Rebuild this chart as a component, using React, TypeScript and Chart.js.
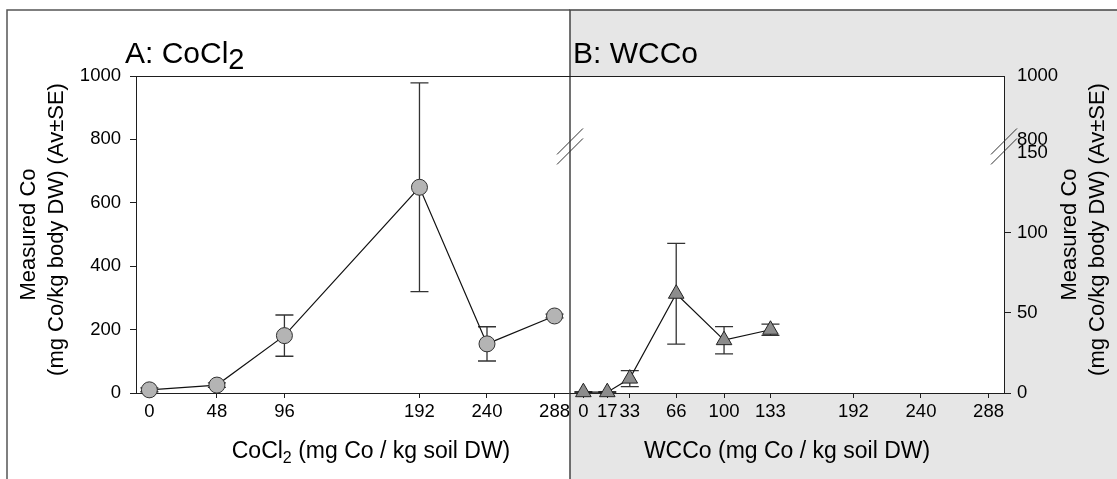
import React, { useEffect, useRef } from 'react';
import { Chart, registerables } from 'chart.js';

Chart.register(...registerables);

// Panel A: CoCl2 exposure
const DOSE_A = [0, 48, 96, 192, 240, 288];
const CO_A = [10, 25, 181, 649, 155, 243];
const SE_A = [6, 7, 65, 329, 54, 6];

// Panel B: WCCo exposure
const DOSE_B = [0, 17, 33, 66, 100, 133];
const CO_B = [0.5, 0.5, 9, 62, 33, 39.5];
const SE_B = [0.3, 0.3, 5, 31.5, 8.5, 3.5];

const X_TICKS_A = [0, 48, 96, 192, 240, 288];
const X_TICKS_B = [0, 17, 33, 66, 100, 133, 192, 240, 288];
const Y_TICKS_A = [0, 200, 400, 600, 800, 1000];
const Y_TICKS_B_LOW = [0, 50, 100, 150];
const Y_TICKS_B_HIGH = [800, 1000];

// Broken right axis of panel B: 0–150 on a linear scale, then 800–1000 squeezed above a gap
const B_LOW_MAX = 150;
const B_GAP = 8;
const B_HIGH_SPAN = 40;
const B_HIGH_MIN = 800;
const B_HIGH_MAX = 1000;
const mapHigh = (v: number) =>
  B_LOW_MAX + B_GAP + ((v - B_HIGH_MIN) / (B_HIGH_MAX - B_HIGH_MIN)) * B_HIGH_SPAN;

const X_MIN = -9.5;
const X_MAX = 299;

const FAMILY = '"Liberation Sans", Arial, Helvetica, sans-serif';
const AXIS = '#1e1e1e';
const TITLE_SIZE = 23;
const Y_TITLE_SIZE = 22;

function vText(ctx: CanvasRenderingContext2D, text: string, x: number, y: number, size: number) {
  ctx.save();
  ctx.translate(x, y);
  ctx.rotate(-Math.PI / 2);
  ctx.font = `${size}px ${FAMILY}`;
  ctx.fillStyle = '#000';
  ctx.textAlign = 'center';
  ctx.textBaseline = 'middle';
  ctx.fillText(text, 0, 0);
  ctx.restore();
}

// text runs: [text, lowered?]; lowered runs use a smaller font and sit below the baseline
function runText(
  ctx: CanvasRenderingContext2D,
  runs: [string, boolean][],
  x: number,
  baseline: number,
  size: number,
  subSize: number,
  subDrop: number,
  align: 'left' | 'center'
) {
  ctx.save();
  ctx.fillStyle = '#000';
  ctx.textAlign = 'left';
  ctx.textBaseline = 'alphabetic';
  const widths = runs.map(([t, sub]) => {
    ctx.font = `${sub ? subSize : size}px ${FAMILY}`;
    return ctx.measureText(t).width;
  });
  const total = widths.reduce((a, b) => a + b, 0);
  let cx = align === 'center' ? x - total / 2 : x;
  runs.forEach(([t, sub], i) => {
    ctx.font = `${sub ? subSize : size}px ${FAMILY}`;
    ctx.fillText(t, cx, sub ? baseline + subDrop : baseline);
    cx += widths[i];
  });
  ctx.restore();
}

const errorBars = {
  id: 'errorBars',
  beforeDatasetsDraw(chart: any) {
    const { ctx } = chart;
    const xs = chart.scales.x;
    const ys = chart.scales.y;
    ctx.save();
    ctx.strokeStyle = '#333';
    ctx.lineWidth = 1.3;
    chart.data.datasets.forEach((ds: any) => {
      const errs: number[] = ds.errors || [];
      ds.data.forEach((p: any, i: number) => {
        const e = errs[i] || 0;
        const x = xs.getPixelForValue(p.x);
        const top = ys.getPixelForValue(p.y + e);
        const bot = ys.getPixelForValue(p.y - e);
        ctx.beginPath();
        ctx.moveTo(x, top);
        ctx.lineTo(x, bot);
        ctx.moveTo(x - 9, top);
        ctx.lineTo(x + 9, top);
        ctx.moveTo(x - 9, bot);
        ctx.lineTo(x + 9, bot);
        ctx.stroke();
      });
    });
    ctx.restore();
  },
};

const panelA = {
  id: 'panelA',
  beforeDraw(chart: any) {
    const { ctx, chartArea } = chart;
    ctx.save();
    ctx.strokeStyle = '#555';
    ctx.lineWidth = 1.5;
    ctx.beginPath();
    ctx.moveTo(7, 479);
    ctx.lineTo(7, 10);
    ctx.lineTo(chartArea.right, 10);
    ctx.stroke();
    ctx.strokeStyle = AXIS;
    ctx.lineWidth = 1;
    ctx.beginPath();
    ctx.moveTo(chartArea.left - 6, chartArea.top + 0.5);
    ctx.lineTo(chartArea.right, chartArea.top + 0.5);
    ctx.stroke();
    ctx.restore();
  },
  afterDraw(chart: any) {
    const { ctx, chartArea } = chart;
    runText(ctx, [['A: CoCl', false], ['2', true]], 125, 63, 30, 29, 6, 'left');
    runText(
      ctx,
      [['CoCl', false], ['2', true], [' (mg Co / kg soil DW)', false]],
      371,
      458,
      TITLE_SIZE,
      16,
      5,
      'center'
    );
    const cy = (chartArea.top + chartArea.bottom) / 2;
    vText(ctx, 'Measured Co', 29, cy, Y_TITLE_SIZE);
    vText(ctx, '(mg Co/kg body DW) (Av±SE)', 57, cy - 5, Y_TITLE_SIZE);
  },
};

const panelB = {
  id: 'panelB',
  beforeDraw(chart: any) {
    const { ctx, chartArea, width, height } = chart;
    const left = chartArea.left;
    ctx.save();
    ctx.fillStyle = '#e6e6e6';
    ctx.fillRect(left, 10, width - left, height - 10);
    ctx.fillStyle = '#ffffff';
    ctx.fillRect(left, chartArea.top, chartArea.right - left, chartArea.bottom - chartArea.top);
    ctx.strokeStyle = '#444';
    ctx.lineWidth = 1.5;
    ctx.beginPath();
    ctx.moveTo(left, height);
    ctx.lineTo(left, 10);
    ctx.lineTo(width, 10);
    ctx.stroke();
    ctx.strokeStyle = AXIS;
    ctx.lineWidth = 1;
    ctx.beginPath();
    ctx.moveTo(left - 12, chartArea.top + 0.5);
    ctx.lineTo(chartArea.right, chartArea.top + 0.5);
    ctx.stroke();
    ctx.restore();
  },
  afterDraw(chart: any) {
    const { ctx, chartArea } = chart;
    const ys = chart.scales.y;
    // axis break marks on both plot edges
    const yb = (ys.getPixelForValue(B_LOW_MAX) + ys.getPixelForValue(mapHigh(B_HIGH_MIN))) / 2;
    ctx.save();
    ctx.strokeStyle = '#333';
    ctx.lineWidth = 1;
    [chartArea.left, chartArea.right].forEach((ex: number) => {
      [-5, 5].forEach((off) => {
        ctx.beginPath();
        ctx.moveTo(ex - 13, yb + off + 13);
        ctx.lineTo(ex + 13, yb + off - 13);
        ctx.stroke();
      });
    });
    ctx.restore();
    runText(ctx, [['B: WCCo', false]], chartArea.left + 3, 63, 30, 30, 0, 'left');
    runText(
      ctx,
      [['WCCo (mg Co / kg soil DW)', false]],
      (chartArea.left + chartArea.right) / 2,
      458,
      TITLE_SIZE,
      TITLE_SIZE,
      0,
      'center'
    );
    const cy = (chartArea.top + chartArea.bottom) / 2;
    vText(ctx, 'Measured Co', chartArea.right + 66, cy, Y_TITLE_SIZE);
    vText(ctx, '(mg Co/kg body DW) (Av±SE)', chartArea.right + 94, cy - 5, Y_TITLE_SIZE);
  },
};

const tickFont = { family: FAMILY, size: 18.5 };

export default function App() {
  const refA = useRef<HTMLCanvasElement>(null);
  const refB = useRef<HTMLCanvasElement>(null);

  useEffect(() => {
    const chartA = new Chart(refA.current as HTMLCanvasElement, {
      type: 'scatter',
      data: {
        datasets: [
          {
            data: DOSE_A.map((d, i) => ({ x: d, y: CO_A[i] })),
            errors: SE_A,
            showLine: true,
            borderColor: '#111',
            borderWidth: 1.2,
            pointStyle: 'circle',
            pointRadius: 8,
            pointHoverRadius: 8,
            pointBackgroundColor: '#b4b4b4',
            pointBorderColor: '#303030',
            pointBorderWidth: 1,
            clip: false,
          } as any,
        ],
      },
      options: {
        animation: false,
        responsive: false,
        events: [],
        layout: { padding: { top: 76, left: 0, right: 30, bottom: 0 } },
        plugins: { legend: { display: false }, tooltip: { enabled: false } },
        scales: {
          x: {
            type: 'linear',
            min: X_MIN,
            max: X_MAX,
            afterBuildTicks: (s: any) => {
              s.ticks = X_TICKS_A.map((v) => ({ value: v }));
            },
            afterFit: (s: any) => {
              s.height = 86;
            },
            grid: { drawOnChartArea: false, drawTicks: true, tickLength: 5, tickColor: AXIS },
            border: { display: true, color: AXIS, width: 1 },
            ticks: {
              autoSkip: false,
              maxRotation: 0,
              minRotation: 0,
              color: '#000',
              font: tickFont,
              padding: 3,
              callback: (v: any) => String(v),
            },
          },
          y: {
            type: 'linear',
            min: 0,
            max: 1000,
            afterBuildTicks: (s: any) => {
              s.ticks = Y_TICKS_A.map((v) => ({ value: v }));
            },
            afterFit: (s: any) => {
              s.width = 136;
            },
            grid: { drawOnChartArea: false, drawTicks: true, tickLength: 6, tickColor: AXIS },
            border: { display: true, color: AXIS, width: 1 },
            ticks: { color: '#000', font: tickFont, padding: 9, callback: (v: any) => String(v) },
          },
        },
      },
      plugins: [panelA, errorBars],
    } as any);

    const yLabels: Record<string, string> = {};
    Y_TICKS_B_LOW.forEach((v) => (yLabels[String(v)] = String(v)));
    Y_TICKS_B_HIGH.forEach((v) => (yLabels[String(mapHigh(v))] = String(v)));
    const yValuesB = [...Y_TICKS_B_LOW, ...Y_TICKS_B_HIGH.map(mapHigh)];

    const chartB = new Chart(refB.current as HTMLCanvasElement, {
      type: 'scatter',
      data: {
        datasets: [
          {
            data: DOSE_B.map((d, i) => ({ x: d, y: CO_B[i] })),
            errors: SE_B,
            showLine: true,
            borderColor: '#111',
            borderWidth: 1.2,
            pointStyle: 'triangle',
            pointRadius: 9,
            pointHoverRadius: 9,
            pointBackgroundColor: '#8c8c8c',
            pointBorderColor: '#222',
            pointBorderWidth: 1,
            clip: false,
          } as any,
        ],
      },
      options: {
        animation: false,
        responsive: false,
        events: [],
        layout: { padding: { top: 76, left: 20, right: 0, bottom: 0 } },
        plugins: { legend: { display: false }, tooltip: { enabled: false } },
        scales: {
          x: {
            type: 'linear',
            min: X_MIN,
            max: X_MAX,
            afterBuildTicks: (s: any) => {
              s.ticks = X_TICKS_B.map((v) => ({ value: v }));
            },
            afterFit: (s: any) => {
              s.height = 86;
            },
            grid: { drawOnChartArea: false, drawTicks: true, tickLength: 5, tickColor: AXIS },
            border: { display: true, color: AXIS, width: 1 },
            ticks: {
              autoSkip: false,
              maxRotation: 0,
              minRotation: 0,
              color: '#000',
              font: tickFont,
              padding: 3,
              callback: (v: any) => String(v),
            },
          },
          y: {
            type: 'linear',
            position: 'right',
            min: 0,
            max: mapHigh(B_HIGH_MAX),
            afterBuildTicks: (s: any) => {
              s.ticks = yValuesB.map((v) => ({ value: v }));
            },
            afterFit: (s: any) => {
              s.width = 113;
            },
            grid: {
              drawOnChartArea: false,
              drawTicks: true,
              tickLength: 7,
              tickColor: (c: any) => (c.tick && c.tick.value >= B_LOW_MAX ? 'rgba(0,0,0,0)' : AXIS),
            },
            border: { display: true, color: AXIS, width: 1 },
            ticks: {
              color: '#000',
              font: tickFont,
              padding: 6,
              callback: (v: any) => yLabels[String(v)] ?? '',
            },
          },
        },
      },
      plugins: [panelB, errorBars],
    } as any);

    return () => {
      chartA.destroy();
      chartB.destroy();
    };
  }, []);

  return (
    <div
      style={{
        position: 'fixed',
        left: 0,
        top: 0,
        width: 1117,
        height: 479,
        background: '#ffffff',
        overflow: 'hidden',
      }}
    >
      <canvas
        ref={refA}
        width={600}
        height={479}
        style={{ position: 'absolute', left: 0, top: 0, width: 600, height: 479 }}
      />
      <canvas
        ref={refB}
        width={567}
        height={479}
        style={{ position: 'absolute', left: 550, top: 0, width: 567, height: 479 }}
      />
    </div>
  );
}
